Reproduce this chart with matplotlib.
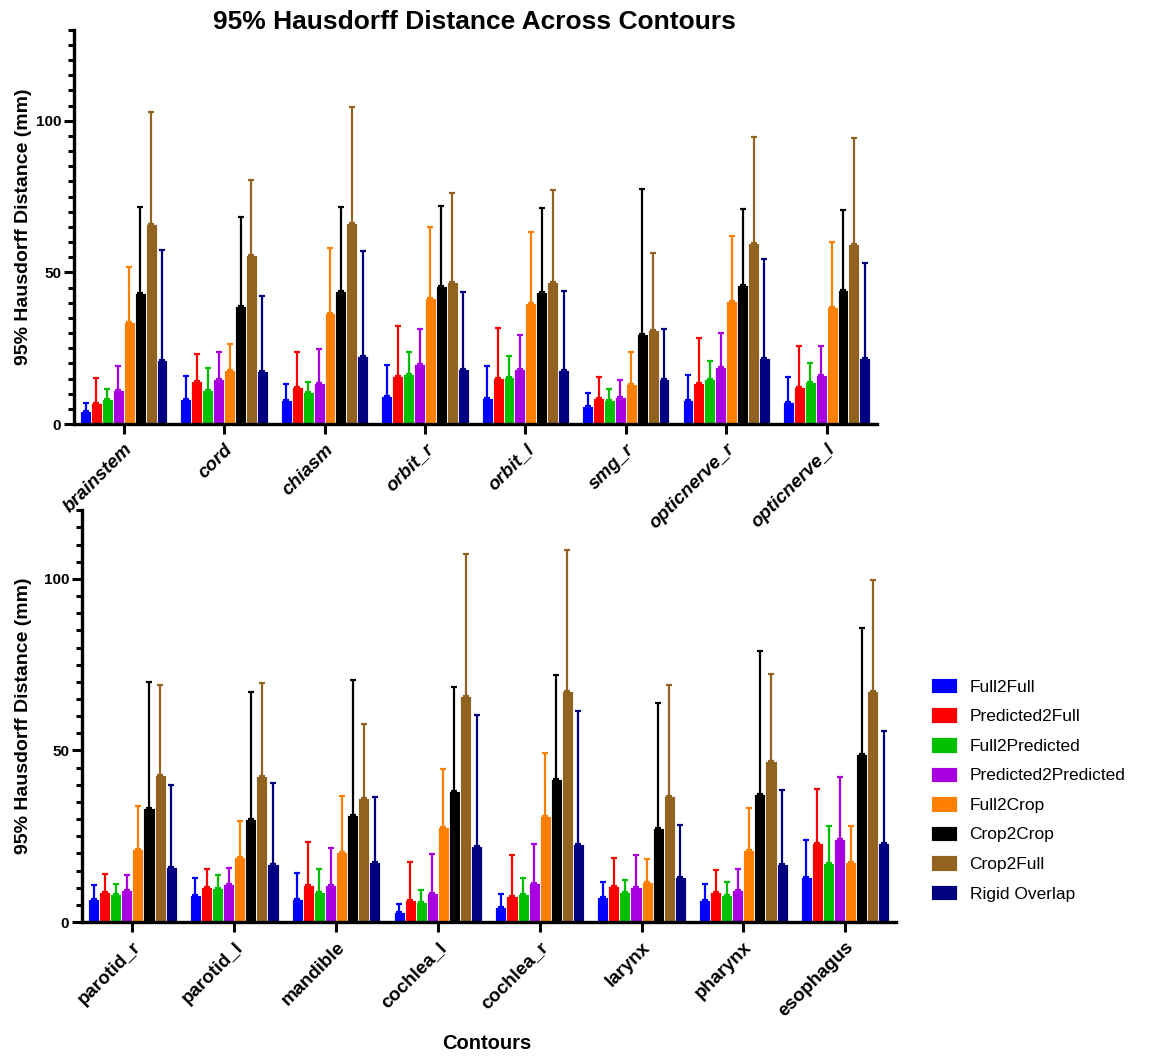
import numpy as np
import matplotlib
matplotlib.use("Agg")
import matplotlib.pyplot as plt
from matplotlib.ticker import MultipleLocator

plt.rcParams['font.family'] = ['Liberation Sans', 'DejaVu Sans']

methods = ["Full2Full", "Predicted2Full", "Full2Predicted", "Predicted2Predicted",
           "Full2Crop", "Crop2Crop", "Crop2Full", "Rigid Overlap"]
colors = ["#0000FF", "#FF0000", "#00C000", "#A800E0",
          "#FF8000", "#000000", "#926220", "#000080"]

top_labels = ["brainstem", "cord", "chiasm", "orbit_r", "orbit_l", "smg_r",
              "opticnerve_r", "opticnerve_l"]
bottom_labels = ["parotid_r", "parotid_l", "mandible", "cochlea_l", "cochlea_r",
                 "larynx", "pharynx", "esophagus"]

# mean values, one list per method (order follows the category lists)
top_mean = [
    [4.4, 8.4, 8.1, 9.2, 8.6, 6.1, 7.9, 7.3],
    [7.1, 14.1, 12.4, 15.8, 15.1, 8.7, 13.6, 12.3],
    [8.4, 11.3, 10.7, 16.4, 15.4, 8.0, 14.9, 14.0],
    [11.2, 14.8, 13.4, 19.8, 18.2, 8.8, 18.8, 16.2],
    [33.7, 18.0, 36.6, 41.6, 39.9, 13.3, 40.5, 38.7],
    [43.2, 38.8, 43.9, 45.4, 43.6, 29.7, 45.7, 44.1],
    [66.0, 55.9, 66.4, 46.8, 47.0, 30.9, 59.6, 59.3],
    [21.3, 17.5, 22.5, 18.1, 18.0, 14.9, 21.9, 21.7],
]
# top of the error bar (mean + SD)
top_upper = [
    [7.1, 16.0, 13.2, 19.5, 19.0, 10.3, 16.2, 15.4],
    [15.1, 23.0, 23.9, 32.3, 31.8, 15.4, 28.5, 25.7],
    [11.5, 18.4, 13.8, 23.8, 22.4, 11.6, 20.8, 20.2],
    [19.2, 23.8, 24.9, 31.3, 29.4, 14.7, 30.2, 25.7],
    [51.9, 26.4, 57.9, 65.1, 63.2, 23.9, 62.1, 59.9],
    [71.6, 68.2, 71.5, 71.9, 71.2, 77.4, 70.8, 70.5],
    [102.9, 80.5, 104.4, 76.1, 77.1, 56.3, 94.5, 94.4],
    [57.3, 42.3, 57.1, 43.6, 43.9, 31.4, 54.3, 53.2],
]

bottom_mean = [
    [6.6, 8.0, 6.8, 2.9, 4.4, 7.2, 6.5, 13.2],
    [8.8, 10.3, 10.8, 6.3, 7.5, 10.5, 8.8, 22.9],
    [8.3, 10.0, 8.9, 5.8, 8.3, 8.7, 7.9, 17.1],
    [9.4, 11.1, 10.9, 8.4, 11.4, 10.3, 9.4, 24.2],
    [21.2, 18.9, 20.4, 27.8, 30.9, 11.6, 21.0, 17.4],
    [33.3, 30.0, 31.3, 38.2, 41.8, 27.5, 37.3, 48.9],
    [42.8, 42.6, 36.2, 66.0, 67.3, 36.7, 46.9, 67.4],
    [15.9, 16.9, 17.5, 22.1, 22.7, 13.1, 16.9, 23.1],
]
bottom_upper = [
    [10.9, 12.7, 14.2, 5.3, 8.3, 11.7, 11.1, 23.9],
    [14.1, 15.5, 23.3, 17.4, 19.4, 18.6, 15.2, 38.7],
    [11.1, 13.7, 15.5, 9.2, 12.9, 12.2, 11.7, 28.1],
    [13.6, 15.8, 21.6, 19.8, 22.6, 19.6, 15.4, 42.3],
    [33.7, 29.5, 36.6, 44.6, 49.3, 18.5, 33.2, 28.0],
    [69.9, 67.1, 70.4, 68.4, 72.1, 63.8, 79.0, 85.7],
    [69.1, 69.8, 57.6, 107.3, 108.3, 69.1, 72.4, 99.6],
    [39.8, 40.4, 36.3, 60.2, 61.6, 28.2, 38.5, 55.6],
]


def draw_panel(ax, labels, means, uppers, ymax, italic, ylab_x):
    x = np.arange(len(labels))
    n = len(methods)
    w = 0.87 / n
    for i in range(n):
        xi = x - 0.435 + w * (i + 0.5)
        m = np.array(means[i])
        up = np.array(uppers[i]) - m
        ax.bar(xi, m, width=w, color=colors[i], edgecolor="white",
               linewidth=0.6, label=methods[i], zorder=2)
        ax.errorbar(xi, m, yerr=[np.zeros_like(m), up], fmt="none",
                    ecolor=colors[i], elinewidth=1.6, capsize=2.5,
                    capthick=1.6, zorder=3)
    ax.set_ylim(0, ymax)
    ax.set_xlim(-0.5, 7.5)
    ax.set_xticks(x)
    ax.set_xticklabels(labels, rotation=45, ha="right", rotation_mode="anchor",
                       fontsize=13.5, fontweight="bold",
                       fontstyle="italic" if italic else "normal")
    ax.set_yticks([0, 50, 100])
    ax.yaxis.set_minor_locator(MultipleLocator(5))
    for lab in ax.get_yticklabels():
        lab.set_fontweight("bold")
        lab.set_fontsize(11)
    ax.spines["top"].set_visible(False)
    ax.spines["right"].set_visible(False)
    ax.spines["left"].set_linewidth(2.4)
    ax.spines["bottom"].set_linewidth(2.4)
    ax.tick_params(axis="both", which="major", length=7, width=2.2, pad=2)
    ax.tick_params(axis="y", which="minor", length=4.5, width=2.2)
    ax.tick_params(axis="x", which="major", pad=5)
    ax.set_ylabel("95% Hausdorff Distance (mm)", fontsize=14,
                  fontweight="bold")
    ax.yaxis.set_label_coords(ylab_x, 0.5)
    ax.patch.set_visible(False)


fig = plt.figure(figsize=(11.71, 10.63), dpi=100)
ax1 = fig.add_axes([0.0628, 0.601, 0.686, 0.371])
ax2 = fig.add_axes([0.0696, 0.1326, 0.6956, 0.3874])
ax1.set_zorder(2)

draw_panel(ax1, top_labels, top_mean, top_upper, 130, True, -0.052)
draw_panel(ax2, bottom_labels, bottom_mean, bottom_upper, 120, False, -0.061)

fig.text(0.405, 0.979, "95% Hausdorff Distance Across Contours",
         ha="center", va="center", fontsize=19, fontweight="bold")
fig.text(0.416, 0.018, "Contours", ha="center", va="center",
         fontsize=14.5, fontweight="bold")

handles, lbls = ax2.get_legend_handles_labels()
fig.legend(handles, lbls, loc="upper left", bbox_to_anchor=(0.782, 0.377),
           frameon=False, fontsize=12.5, handlelength=1.5, handleheight=1.0,
           labelspacing=0.74, handletextpad=0.7)

fig.savefig("out.png", dpi=100)
